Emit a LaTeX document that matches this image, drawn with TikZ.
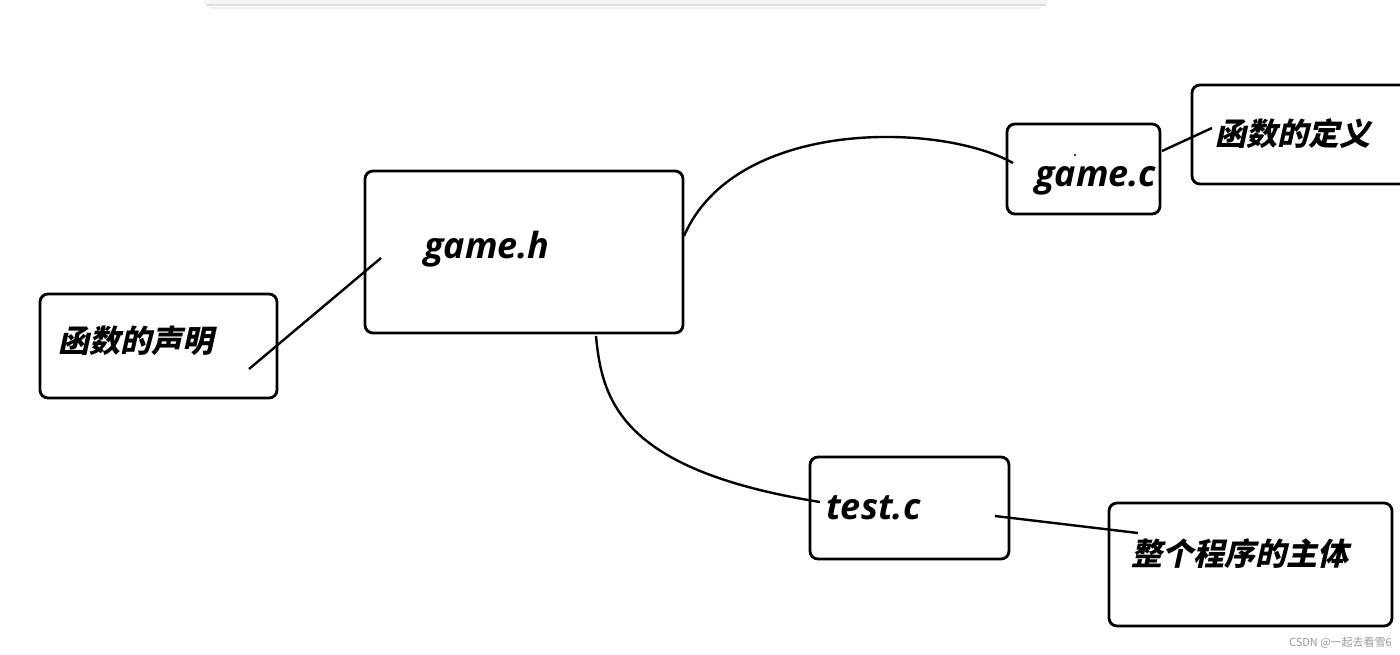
\documentclass[tikz,border=0pt]{standalone}
\usepackage{fontspec}
\setmainfont{Open Sans}
\newfontfamily\cjk{Noto Sans CJK SC}[FakeSlant=0.22]
\newfontfamily\wmfont{Noto Sans CJK SC}
\begin{document}
\begin{tikzpicture}[x=1pt,y=-1pt,
  box/.style={draw=black,line width=2.8pt,rounded corners=8pt,fill=white},
  link/.style={draw=black,line width=2.4pt},
  lat/.style={inner sep=0pt,font=\fontsize{36}{36}\selectfont\bfseries\itshape},
  zh/.style={inner sep=0pt,font=\fontsize{31}{31}\selectfont\cjk\bfseries}]
\clip (0,0) rectangle (1400,654);
\useasboundingbox (0,0) rectangle (1400,654);
\fill[white] (0,0) rectangle (1400,654);
% top panel edge
\fill[black!4] (204,-10) rectangle (1048,4);
\draw[black!12,line width=1.5pt] (206,5) -- (1046,5);
\draw[black!6,line width=2pt] (210,7.5) -- (1040,7.5);
% boxes
\draw[box] (365,171) rectangle (683,333) node[pos=0.5] (gh) {};
\draw[box] (40,294) rectangle (277,398) node[pos=0.5] (decl) {};
\draw[box] (1007,124) rectangle (1160,214) node[pos=0.5] (gc) {};
\draw[box] (1192,85) rectangle (1425,184) node[pos=0.5] (def) {};
\draw[box] (810,457) rectangle (1009,559) node[pos=0.5] (tc) {};
\draw[box] (1109,503) rectangle (1392,626) node[pos=0.5] (body) {};
% texts
\node[lat,anchor=base west] (ghT) at (424,258) {game.h};
\node[lat,anchor=base west] (gcT) at (1035,186) {game.c};
\node[lat,anchor=base west] (tcT) at (826,519) {test.c};
\node[zh,anchor=west] (declT) at (58,341) {函数的声明};
\node[zh,anchor=west] (defT) at (1215,134) {函数的定义};
\node[zh,anchor=west] (bodyT) at (1131,554) {整个程序的主体};
% stray dot
\fill (1075,155) circle (1.2pt);
% connector anchors
\coordinate (a1) at (249,369);
\coordinate (a2) at (381,258);
\coordinate (b1) at (684,236);
\coordinate (b2) at (1013,163);
\coordinate (c1) at (596,336);
\coordinate (c2) at (820,502);
\coordinate (d1) at (1162,151);
\coordinate (d2) at (1212,128);
\coordinate (e1) at (995,516);
\coordinate (e2) at (1138,533);
\draw[link] (a1) -- (a2);
\draw[link] (b1) .. controls (735,118) and (940,122) .. (b2);
\draw[link] (c1) .. controls (602,400) and (620,470) .. (c2);
\draw[link] (d1) -- (d2);
\draw[link] (e1) -- (e2);
% watermark
\node[inner sep=0pt,anchor=east,text=black!40,font=\fontsize{11}{11}\selectfont\wmfont] (wm) at (1392,643) {CSDN @一起去看雪6};
\end{tikzpicture}
\end{document}
